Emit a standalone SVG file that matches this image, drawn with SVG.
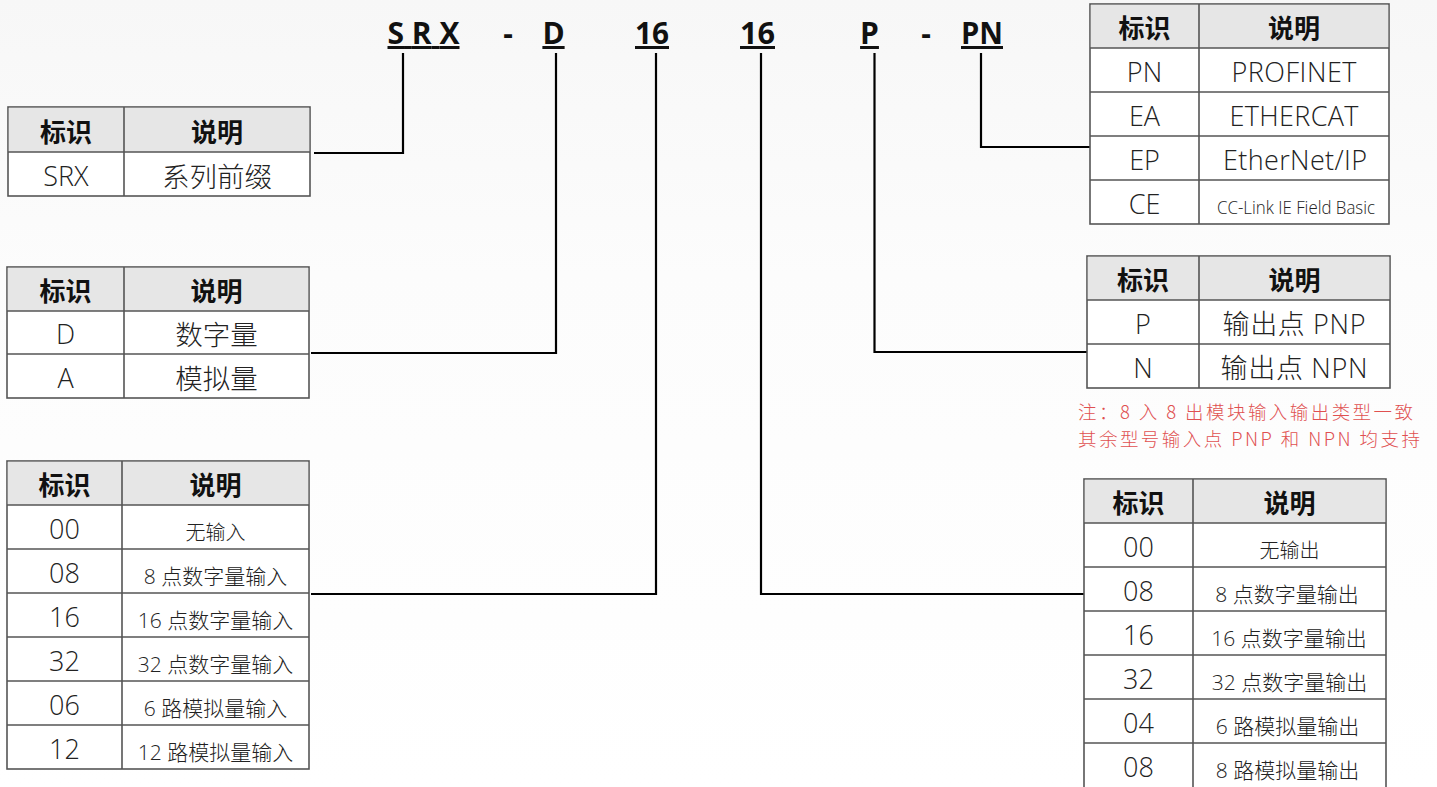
<svg xmlns="http://www.w3.org/2000/svg" width="1437" height="787" viewBox="0 0 1437 787">
<defs>
<linearGradient id="bg" x1="0" y1="0" x2="0" y2="1">
<stop offset="0" stop-color="#f7f7f7"/>
<stop offset="0.35" stop-color="#fcfcfc"/>
<stop offset="1" stop-color="#ffffff"/>
</linearGradient>
<style>
.tb{fill:#ffffff;stroke:#555555;stroke-width:1.6}
.hd{fill:#e6e6e6;stroke:none}
.ln{stroke:#555555;stroke-width:1.6;fill:none}
.h{font-family:"Noto Sans CJK SC","Noto Sans",sans-serif;font-weight:bold;font-size:26px;fill:#111;text-anchor:middle}
.id{font-family:"Open Sans","Noto Sans CJK SC",sans-serif;font-weight:300;font-size:27px;fill:#222;text-anchor:middle}
.dl{font-family:"Open Sans","Noto Sans CJK SC",sans-serif;font-weight:300;font-size:27px;fill:#222;text-anchor:middle}
.ds{font-family:"Open Sans","Noto Sans CJK SC",sans-serif;font-weight:300;font-size:21px;fill:#222;text-anchor:middle}
.dc{font-family:"Noto Sans CJK SC",sans-serif;font-weight:300;font-size:27.5px;fill:#222;text-anchor:middle}
.dcs{font-family:"Noto Sans CJK SC",sans-serif;font-weight:300;font-size:20px;fill:#222;text-anchor:middle}
.ti{font-family:"Open Sans","Liberation Sans",sans-serif;font-weight:bold;font-size:30px;fill:#111;text-anchor:middle;text-decoration:underline}
.note{font-family:"Noto Sans CJK SC",sans-serif;font-weight:300;font-size:18.5px;fill:#e05050}
.cn{stroke:#000;stroke-width:2.2;fill:none}
</style>
</defs>
<rect x="0" y="0" width="1437" height="787" fill="url(#bg)"/>

<g id="title">
<text class="ti" x="423.5" y="44" textLength="72" lengthAdjust="spacing">S R X</text>
<text class="ti" x="508" y="44" style="text-decoration:none">-</text>
<text class="ti" x="553.5" y="44">D</text>
<text class="ti" x="652" y="44" textLength="34" lengthAdjust="spacingAndGlyphs">16</text>
<text class="ti" x="757.5" y="44" textLength="35" lengthAdjust="spacingAndGlyphs">16</text>
<text class="ti" x="869.5" y="44">P</text>
<text class="ti" x="926" y="44" style="text-decoration:none">-</text>
<text class="ti" x="982" y="44" textLength="42" lengthAdjust="spacingAndGlyphs">PN</text>
</g>

<g id="connectors">
<path class="cn" d="M403,53 V153 H314"/>
<path class="cn" d="M556,53 V353 H311"/>
<path class="cn" d="M656,53 V594 H311"/>
<path class="cn" d="M761,53 V594 H1084"/>
<path class="cn" d="M874.5,53 V352 H1087"/>
<path class="cn" d="M981,53 V147 H1090"/>
</g>

<g id="table-srx">
<rect class="tb" x="8" y="107" width="302" height="89"/>
<rect class="hd" x="8.8" y="107.8" width="300.4" height="44.2"/>
<path class="ln" d="M8,152 H310 M124,107 V196"/>
<text class="h" x="66" y="142">标识</text>
<text class="h" x="217" y="142">说明</text>
<text class="id" x="66" y="186">SRX</text>
<text class="dc" x="217" y="187" textLength="110" lengthAdjust="spacing">系列前缀</text>
</g>

<g id="table-d">
<rect class="tb" x="7" y="267" width="302" height="131"/>
<rect class="hd" x="7.8" y="267.8" width="300.4" height="43.2"/>
<path class="ln" d="M7,311 H309 M7,354 H309 M124,267 V398"/>
<text class="h" x="65.5" y="301">标识</text>
<text class="h" x="216.5" y="301">说明</text>
<text class="id" x="65.5" y="344">D</text>
<text class="dc" x="216.5" y="345">数字量</text>
<text class="id" x="65.5" y="388">A</text>
<text class="dc" x="216.5" y="389">模拟量</text>
</g>

<g id="table-in">
<rect class="tb" x="7" y="461" width="302" height="308"/>
<rect class="hd" x="7.8" y="461.8" width="300.4" height="43.2"/>
<path class="ln" d="M7,505 H309 M7,549 H309 M7,593 H309 M7,637 H309 M7,681 H309 M7,725 H309 M122,461 V769"/>
<text class="h" x="64.5" y="495">标识</text>
<text class="h" x="215.5" y="495">说明</text>
<text class="id" x="64.5" y="539">00</text>
<text class="dcs" x="215.5" y="540">无输入</text>
<text class="id" x="64.5" y="583">08</text>
<text class="ds" x="215.5" y="584">8 点数字量输入</text>
<text class="id" x="64.5" y="627">16</text>
<text class="ds" x="215.5" y="628">16 点数字量输入</text>
<text class="id" x="64.5" y="671">32</text>
<text class="ds" x="215.5" y="672">32 点数字量输入</text>
<text class="id" x="64.5" y="715">06</text>
<text class="ds" x="215.5" y="716">6 路模拟量输入</text>
<text class="id" x="64.5" y="759">12</text>
<text class="ds" x="215.5" y="760">12 路模拟量输入</text>
</g>

<g id="table-pn">
<rect class="tb" x="1090" y="4" width="299" height="220"/>
<rect class="hd" x="1090.8" y="4.8" width="297.4" height="43.2"/>
<path class="ln" d="M1090,48 H1389 M1090,92 H1389 M1090,136 H1389 M1090,180 H1389 M1199,4 V224"/>
<text class="h" x="1144.5" y="38">标识</text>
<text class="h" x="1294" y="38">说明</text>
<text class="id" x="1144.5" y="82">PN</text>
<text class="dl" x="1294" y="82" textLength="125" lengthAdjust="spacing">PROFINET</text>
<text class="id" x="1144.5" y="126">EA</text>
<text class="dl" x="1294" y="126" textLength="129" lengthAdjust="spacing">ETHERCAT</text>
<text class="id" x="1144.5" y="170">EP</text>
<text class="dl" x="1295" y="170" textLength="144" lengthAdjust="spacing">EtherNet/IP</text>
<text class="id" x="1144.5" y="214">CE</text>
<text class="dl" x="1296" y="214" style="font-size:18px" textLength="158" lengthAdjust="spacingAndGlyphs">CC-Link IE Field Basic</text>
</g>

<g id="table-p">
<rect class="tb" x="1087" y="256" width="303" height="132"/>
<rect class="hd" x="1087.8" y="256.8" width="301.4" height="43.2"/>
<path class="ln" d="M1087,300 H1390 M1087,344 H1390 M1199,256 V388"/>
<text class="h" x="1143" y="290">标识</text>
<text class="h" x="1294.5" y="290">说明</text>
<text class="id" x="1143" y="334">P</text>
<text class="dl" x="1294" y="334" textLength="143" lengthAdjust="spacing">输出点 PNP</text>
<text class="id" x="1143" y="378">N</text>
<text class="dl" x="1294" y="378" textLength="147" lengthAdjust="spacing">输出点 NPN</text>
</g>

<g id="note">
<text class="note"><tspan x="1078" y="418.5" textLength="335" lengthAdjust="spacing">注：8 入 8 出模块输入输出类型一致</tspan><tspan x="1078" y="445.5" textLength="342" lengthAdjust="spacing">其余型号输入点 PNP 和 NPN 均支持</tspan></text>
</g>

<g id="table-out">
<rect class="tb" x="1084" y="479" width="302" height="310"/>
<rect class="hd" x="1084.8" y="479.8" width="300.4" height="43.2"/>
<path class="ln" d="M1084,523 H1386 M1084,567 H1386 M1084,611 H1386 M1084,655 H1386 M1084,699 H1386 M1084,743 H1386 M1193,479 V789"/>
<text class="h" x="1138.5" y="513">标识</text>
<text class="h" x="1289.5" y="513">说明</text>
<text class="id" x="1138.5" y="557">00</text>
<text class="dcs" x="1289.5" y="558">无输出</text>
<text class="id" x="1138.5" y="601">08</text>
<text class="ds" x="1287" y="602">8 点数字量输出</text>
<text class="id" x="1138.5" y="645">16</text>
<text class="ds" x="1289" y="646">16 点数字量输出</text>
<text class="id" x="1138.5" y="689">32</text>
<text class="ds" x="1289.5" y="690">32 点数字量输出</text>
<text class="id" x="1138.5" y="733">04</text>
<text class="ds" x="1287.5" y="734">6 路模拟量输出</text>
<text class="id" x="1138.5" y="777">08</text>
<text class="ds" x="1287.5" y="778">8 路模拟量输出</text>
</g>
</svg>
